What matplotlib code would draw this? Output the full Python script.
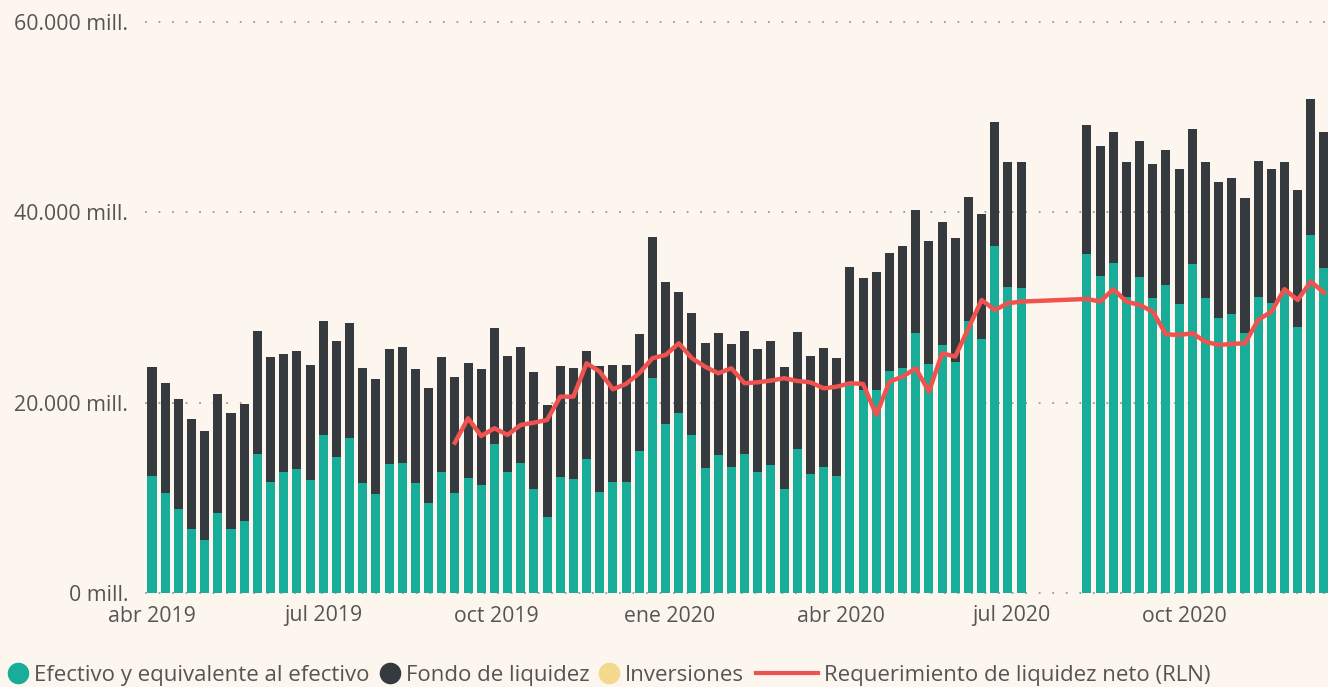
import matplotlib
matplotlib.use("Agg")
import matplotlib.pyplot as plt
import matplotlib.dates as mdates
from matplotlib.lines import Line2D
import numpy as np
import pandas as pd

plt.rcParams['font.family'] = ['Open Sans', 'DejaVu Sans']

nan = np.nan
# weekly periods starting 2019-04-01; weeks 67-70 have no data
start_date = "2019-04-01"
n_weeks = 90

efectivo = [12330, 10540, 8800, 6690, 5570, 8380, 6690, 7600, 14610, 11700,
            12750, 13000, 11880, 16610, 14330, 16260, 11590, 10400, 13560, 13690,
            11530, 9430, 12720, 10540, 12060, 11320, 15660, 12720, 13630, 10960,
            8020, 12160, 11950, 14050, 10650, 11700, 11700, 14960, 22570, 17760,
            18950, 16610, 13170, 14500, 13270, 14610, 12680, 13450, 10900, 15130,
            12510, 13270, 12330, 22070, 21300, 21340, 23370, 23610, 27360, 24070,
            26070, 24310, 28620, 26730, 36470, 32130, 32020, nan, nan, nan,
            nan, 35590, 33320, 34710, 31140, 33240, 30970, 32370, 30370, 34550,
            31040, 28870, 29290, 27290, 31140, 30450, 31740, 27990, 37630, 34130]

total = [23780, 22040, 20360, 18290, 17060, 20910, 18890, 19830, 27540, 24770,
         25120, 25430, 23930, 28620, 26520, 28340, 23610, 22480, 25640, 25820,
         23540, 21580, 24770, 22730, 24200, 23510, 27850, 24910, 25820, 23230,
         19760, 23890, 23680, 25430, 23860, 23960, 23960, 27180, 37450, 32720,
         31670, 29400, 26240, 27360, 26170, 27540, 25610, 26440, 23780, 27400,
         24910, 25720, 24670, 34300, 33140, 33700, 35700, 36470, 40250, 37000,
         38960, 37340, 41590, 39800, 49530, 45270, 45270, nan, nan, nan,
         nan, 49150, 46980, 48420, 45270, 47510, 45090, 46560, 44560, 48740,
         45270, 43170, 43650, 41550, 45440, 44530, 45270, 42350, 51890, 48480]

inversiones = [0] * n_weeks

rln = [nan] * 23 + [
         15800, 18360, 16500, 17310, 16610, 17660, 17900, 18180, 20630, 20630,
         24140, 23260, 21410, 21970, 23090, 24670, 25010, 26240, 24670, 23780,
         23090, 23610, 22040, 22140, 22320, 22570, 22280, 22140, 21510, 21680,
         22040, 21970, 18710, 22210, 22730, 23610, 21160, 25190, 24840, 27820,
         30790, 29740, 30450, 30620, nan, nan, nan, nan, 30900, 30620,
         31920, 30620, 30270, 29560, 27180, 27110, 27290, 26410, 26060, 26170,
         26240, 28690, 29560, 31920, 30790, 32720, 31560]

tick_dates = ["2019-04-01", "2019-07-01", "2019-10-01", "2020-01-01",
              "2020-04-01", "2020-07-01", "2020-10-01"]
tick_labels = ["abr 2019", "jul 2019", "oct 2019", "ene 2020",
               "abr 2020", "jul 2020", "oct 2020"]
y_ticks = [0, 20000, 40000, 60000]
y_labels = ["0 mill.", "20.000 mill.", "40.000 mill.", "60.000 mill."]
legend_labels = ["Efectivo y equivalente al efectivo", "Fondo de liquidez",
                 "Inversiones", "Requerimiento de liquidez neto (RLN)"]

dates = pd.date_range(start_date, periods=n_weeks, freq="7D")
efectivo = np.array(efectivo, dtype=float)
total = np.array(total, dtype=float)
fondo = total - efectivo
rln = np.array(rln, dtype=float)

BG = "#FDF6EE"
TEAL = "#17AD98"
DARK = "#343A3D"
YELLOW = "#F3D88E"
RED = "#F0534F"
TXT = "#555555"
FS = 15.3
LFS = 16

W, H = 1328, 687
fig = plt.figure(figsize=(W / 100, H / 100), dpi=100, facecolor=BG)
ax = fig.add_axes([145 / W, 1 - 593 / H, 1 - 145 / W, (593 - 22) / H])
ax.set_facecolor(BG)

x = mdates.date2num(dates)
w = 4.8
mask = ~np.isnan(efectivo)
ax.bar(x[mask], efectivo[mask], width=w, color=TEAL, zorder=2)
ax.bar(x[mask], fondo[mask], bottom=efectivo[mask], width=w, color=DARK, zorder=2)

m2 = ~np.isnan(rln)
ax.plot(x[m2], rln[m2], color=RED, lw=3.2, zorder=3, solid_joinstyle="round")

ax.set_ylim(0, 60000)
ax.set_xlim(x[0] - 7 * 7 / 13.17, x[-1] + 4 * 7 / 13.17)
ax.set_yticks(y_ticks)
ax.set_yticklabels(y_labels)
ax.set_xticks(mdates.date2num(pd.to_datetime(tick_dates)))
ax.set_xticklabels(tick_labels)
ax.tick_params(axis="both", length=0, labelsize=FS, labelcolor=TXT)
ax.tick_params(axis="y", pad=12)
ax.tick_params(axis="x", pad=9)
for s in ax.spines.values():
    s.set_visible(False)
ax.grid(axis="y", color="#9a9a9a", linestyle=(0, (1, 6.5)), linewidth=1.3,
        zorder=1)
for gl in ax.get_ygridlines():
    gl.set_clip_on(False)
ax.set_axisbelow(True)

# manual legend at the bottom (pixel layout)
renderer = fig.canvas.get_renderer()
ly = 673
px = 8
entries = [("o", TEAL), ("o", DARK), ("o", YELLOW), ("-", RED)]
for (kind, col), lab in zip(entries, legend_labels):
    if kind == "o":
        fig.add_artist(Line2D([(px + 10) / W], [1 - ly / H], marker="o", ls="",
                              color=col, markersize=14.5,
                              transform=fig.transFigure))
        px += 26
    else:
        fig.add_artist(Line2D([(px + 2) / W, (px + 64) / W],
                              [1 - ly / H, 1 - ly / H], color=col, lw=3,
                              transform=fig.transFigure))
        px += 70
    t = fig.text(px / W, 1 - ly / H, lab, fontsize=LFS, color=TXT,
                 va="center_baseline", ha="left")
    bb = t.get_window_extent(renderer=renderer)
    px = bb.x1 + 10

fig.savefig("out.png", dpi=100, facecolor=BG)
